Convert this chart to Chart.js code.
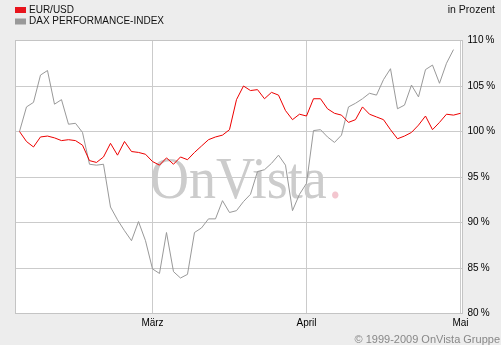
<!DOCTYPE html>
<html>
<head>
<meta charset="utf-8">
<script src="https://cdn.jsdelivr.net/npm/chart.js@4/dist/chart.umd.min.js"></script>
<style>
  html, body { margin: 0; padding: 0; background: #ededed; }
  canvas { display: block; }
</style>
</head>
<body>
<canvas id="chart" width="501" height="345"></canvas>
<script>
// Index = trading day since start of February 2009 (percent of start value)
const eurUsd = [
  100.0, 98.9, 98.3, 99.4, 99.5, 99.3, 99.0, 99.1, 99.0, 98.5,
  96.8, 96.6, 97.2, 98.7, 97.4, 98.9, 97.8, 97.7, 97.5, 96.7,
  96.3, 97.1, 96.4, 97.2, 96.9, 97.7, 98.4, 99.1, 99.4, 99.6,
  100.2, 103.5, 105.0, 104.5, 104.6, 103.6, 104.3, 104.0, 102.3, 101.3,
  101.9, 101.7, 103.6, 103.6, 102.5, 102.0, 101.8, 101.0, 101.3, 102.7,
  101.9, 101.6, 101.3, 100.2, 99.2, 99.5, 99.9, 100.7, 101.7, 100.2,
  101.0, 101.9, 101.8, 102.0
];
const dax = [
  100.0, 102.7, 103.2, 106.2, 106.7, 103.0, 103.5, 100.8, 100.9, 99.9,
  96.4, 96.3, 96.4, 91.7, 90.3, 89.1, 88.0, 90.1, 88.0, 84.9,
  84.4, 88.9, 84.6, 83.9, 84.3, 88.9, 89.4, 90.4, 90.4, 92.4,
  91.1, 91.3, 92.3, 93.1, 95.6, 95.8, 96.5, 97.4, 96.3, 91.3,
  93.1, 94.3, 100.1, 100.2, 99.4, 98.8, 99.6, 102.7, 103.1, 103.6,
  104.2, 104.0, 105.7, 106.9, 102.5, 102.9, 105.1, 103.8, 106.8, 107.3,
  105.3, 107.5, 109.0
];
const monthTicks = [19, 41, 63];
const monthLabels = ['März', 'April', 'Mai'];
const seriesNames = ['EUR/USD', 'DAX PERFORMANCE-INDEX'];

const toPoints = arr => arr.map((v, i) => ({ x: i, y: v }));
const gridColor = '#cbcbcb';
const font = { family: '"Liberation Sans", Arial, sans-serif', size: 10 };

const frame = {
  id: 'frame',
  beforeDraw(chart) {
    const { ctx, chartArea: a } = chart;
    ctx.save();
    ctx.fillStyle = '#ededed';
    ctx.fillRect(0, 0, chart.width, chart.height);
    ctx.fillStyle = '#ffffff';
    ctx.fillRect(a.left, a.top, a.right - a.left, a.bottom - a.top);
    ctx.restore();
  },
  beforeDatasetsDraw(chart) {
    // OnVista watermark
    const ctx = chart.ctx;
    ctx.save();
    ctx.font = '60px "Liberation Serif", "Times New Roman", serif';
    ctx.textBaseline = 'alphabetic';
    ctx.translate(150, 198);
    ctx.scale(0.9, 1);
    ctx.fillStyle = '#cccccc';
    ctx.fillText('OnVista', 0, 0);
    const w = ctx.measureText('OnVista').width;
    ctx.fillStyle = '#f3c6cf';
    ctx.fillText('.', w + 2, 0);
    ctx.restore();
  },
  afterDraw(chart) {
    const { ctx, chartArea: a } = chart;
    ctx.save();
    ctx.strokeStyle = '#c4c4c4';
    ctx.lineWidth = 1;
    ctx.strokeRect(a.left, a.top, a.right - a.left, a.bottom - a.top);

    // legend
    const colors = chart.data.datasets.map(d => d.borderColor);
    ctx.font = '10px "Liberation Sans", Arial, sans-serif';
    ctx.textBaseline = 'alphabetic';
    ctx.textAlign = 'left';
    seriesNames.forEach((name, i) => {
      ctx.fillStyle = i === 0 ? '#e8141c' : '#999999';
      ctx.fillRect(15, 7 + i * 11.5, 11, 6);
      ctx.fillStyle = '#111111';
      ctx.fillText(name, 29, 12.5 + i * 11.5);
    });

    ctx.textAlign = 'right';
    ctx.font = '10.5px "Liberation Sans", Arial, sans-serif';
    ctx.fillText('in Prozent', 495, 13);

    ctx.fillStyle = '#888888';
    ctx.font = '11px "Liberation Sans", Arial, sans-serif';
    ctx.fillText('\u00a9 1999-2009 OnVista Gruppe', 500, 343);
    ctx.restore();
  }
};

new Chart(document.getElementById('chart'), {
  type: 'line',
  data: {
    datasets: [
      {
        label: seriesNames[0],
        data: toPoints(eurUsd),
        borderColor: '#ee0000',
        borderWidth: 1,
        pointRadius: 0,
        tension: 0,
        fill: false
      },
      {
        label: seriesNames[1],
        data: toPoints(dax),
        borderColor: '#999999',
        borderWidth: 1,
        pointRadius: 0,
        tension: 0,
        fill: false
      }
    ]
  },
  options: {
    responsive: false,
    animation: false,
    devicePixelRatio: 1,
    layout: { padding: { left: 15.5, top: 40.5, right: 0, bottom: 0 } },
    plugins: { legend: { display: false }, tooltip: { enabled: false } },
    scales: {
      x: {
        type: 'linear',
        min: -0.571,
        max: 63.286,
        afterBuildTicks: s => { s.ticks = monthTicks.map(v => ({ value: v })); },
        afterFit: s => { s.height = 31.5; },
        ticks: {
          callback: v => monthLabels[monthTicks.indexOf(v)],
          autoSkip: false,
          maxRotation: 0,
          padding: 4,
          color: '#000',
          font
        },
        grid: { color: gridColor, drawTicks: false },
        border: { display: false }
      },
      y: {
        position: 'right',
        min: 80,
        max: 110,
        afterFit: s => { s.width = 38.5; },
        ticks: {
          stepSize: 5,
          callback: v => v + '\u2009%',
          padding: 5,
          color: '#000',
          font
        },
        grid: { color: gridColor, drawTicks: false },
        border: { display: false }
      }
    }
  },
  plugins: [frame]
});
</script>
</body>
</html>
